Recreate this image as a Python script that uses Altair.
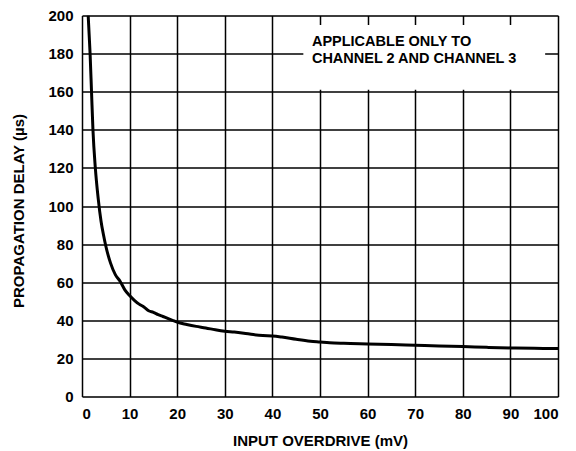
import altair as alt
import pandas as pd

overdrive_mv = [1.3, 1.5, 1.7, 2.0, 2.3, 2.8, 3.4, 4.0, 4.5, 5, 6, 7, 8, 9, 10, 11, 12, 13, 14, 15,
                16, 17, 18, 19, 20, 22, 24, 26, 28, 30, 32, 34, 36, 38, 40, 42, 45, 48, 50, 52,
                55, 60, 65, 70, 75, 80, 85, 90, 95, 100]
delay_us = [200, 190, 180, 160, 140, 120, 104, 92, 85, 79, 70, 64, 60.5, 56, 53, 50.5, 48.5, 47, 45, 44.2,
            43, 42, 41, 40, 39, 37.8, 36.8, 36, 35, 34.2, 33.8, 33.2, 32.5, 32, 31.8, 31.2, 30, 29, 28.6, 28.2,
            27.9, 27.6, 27.3, 26.9, 26.5, 26.2, 25.8, 25.5, 25.3, 25.2]

note_lines = ["APPLICABLE ONLY TO", "CHANNEL 2 AND CHANNEL 3"]
note_x = [48.3, 48.3]
note_y = [186.0, 177.4]
box = {"x": 46.5, "x2": 97.3, "y": 161, "y2": 195}

font = "Liberation Sans"

curve = pd.DataFrame({"x": overdrive_mv, "y": delay_us})

xs = alt.Scale(domain=[0, 100], nice=False)
ys = alt.Scale(domain=[0, 200], nice=False)

x_axis = alt.Axis(
    values=list(range(0, 101, 10)), title="INPUT OVERDRIVE (mV)", ticks=False, domain=False,
    grid=True, gridColor="black", gridWidth=1.5, gridOpacity=1, labelOverlap=False,
    labelFont=font, labelFontSize=15, labelFontWeight="bold", labelColor="black", labelPadding=10,
    titleFont=font, titleFontSize=15, titleFontWeight="bold", titleColor="black",
    titleX=238, titleY=44, titleBaseline="middle", titleAlign="center")
y_axis = alt.Axis(
    values=list(range(0, 201, 20)), title="PROPAGATION DELAY (µs)", ticks=False, domain=False,
    grid=True, gridColor="black", gridWidth=1.5, gridOpacity=1, labelOverlap=False,
    labelFont=font, labelFontSize=15, labelFontWeight="bold", labelColor="black", labelPadding=9,
    titleFont=font, titleFontSize=15, titleFontWeight="bold", titleColor="black",
    titleX=-64, titleY=195, titleAngle=-90, titleBaseline="middle", titleAlign="center")

line = alt.Chart(curve).mark_line(color="black", strokeWidth=3, interpolate="monotone", clip=True).encode(
    x=alt.X("x:Q", scale=xs, axis=x_axis),
    y=alt.Y("y:Q", scale=ys, axis=y_axis),
)

rect = alt.Chart(pd.DataFrame([box])).mark_rect(fill="white").encode(
    x=alt.X("x:Q", scale=xs, axis=x_axis), x2="x2:Q",
    y=alt.Y("y:Q", scale=ys, axis=y_axis), y2="y2:Q")

text = alt.Chart(pd.DataFrame({"x": note_x, "y": note_y, "t": note_lines})).mark_text(
    align="left", baseline="middle", font=font, fontSize=14.5, fontWeight="bold", color="black"
).encode(x=alt.X("x:Q", scale=xs, axis=x_axis), y=alt.Y("y:Q", scale=ys, axis=y_axis), text="t")

chart = alt.layer(rect, text, line).properties(
    width=476, height=381,
    autosize=alt.AutoSizeParams(type="none"),
    padding={"left": 74, "top": 7.5, "right": 10, "bottom": 56},
).configure_view(stroke="black", strokeWidth=2.5).configure_axis(
    labelOverlap=False
).configure(background="white")

chart.save("out.html", embed_options={"renderer": "svg", "actions": False})
